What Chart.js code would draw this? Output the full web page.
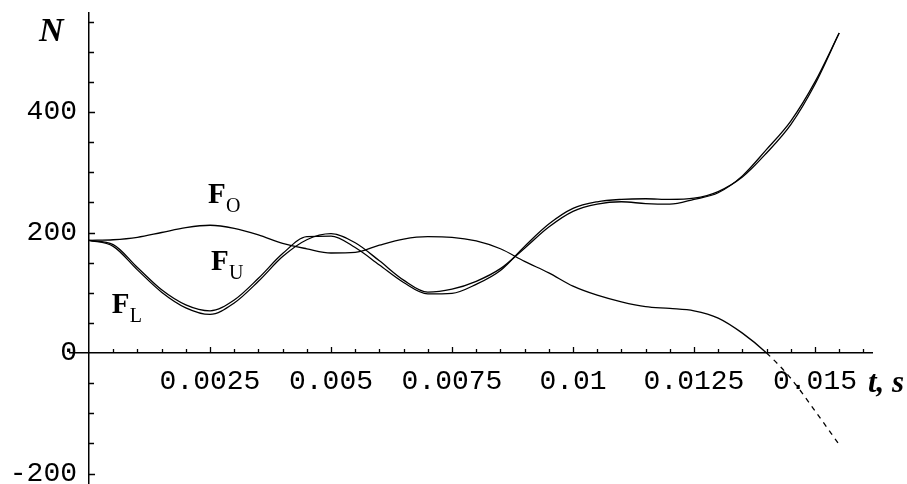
<!DOCTYPE html>
<html>
<head>
<meta charset="utf-8">
<script src="https://cdn.jsdelivr.net/npm/chart.js@4"></script>
<style>
  html, body { margin: 0; padding: 0; background: #fff; }
</style>
</head>
<body>
<canvas id="forces" width="907" height="484"></canvas>
<script>
// time samples (s) and the three force curves (N)
const times = [0, 0.0005, 0.001, 0.0015, 0.002, 0.0025, 0.003, 0.0035, 0.004, 0.0045,
  0.005, 0.0055, 0.006, 0.0065, 0.007, 0.0075, 0.008, 0.0085, 0.009, 0.0095,
  0.01, 0.0105, 0.011, 0.0115, 0.012, 0.0125, 0.013, 0.0135, 0.014, 0.0145, 0.015, 0.0155];
const forceO = [187, 188, 192, 200, 208, 212, 207, 196, 182, 173,
  166, 167, 179, 189, 193, 192, 186, 173, 152, 133,
  111, 96, 85, 77, 74, 70, 58, 33, 0, -42, -96, -152];
const forceU = [187, 180, 142, 105, 80, 70, 88, 124, 165, 193,
  194, 175, 146, 117, 98, 99, 114, 137, 177, 214,
  240, 251, 255, 256, 255, 257, 268, 292, 332, 379, 446, 531];
const forceL = [187, 177, 138, 101, 75, 64, 83, 119, 160, 188,
  198, 183, 153, 121, 101, 106, 119, 140, 174, 209,
  235, 247, 251, 248, 247, 255, 266, 294, 338, 385, 450, 531];

const xTickLabels = [0.0025, 0.005, 0.0075, 0.01, 0.0125, 0.015];
const yTickLabels = [-200, 0, 200, 400];

const curveLabels = [
  { text: 'F', sub: 'O', t: 0.00246, v: 249 },
  { text: 'F', sub: 'U', t: 0.00252, v: 138 },
  { text: 'F', sub: 'L', t: 0.00047, v: 66 }
];

function points(values) {
  return times.map((t, i) => ({ x: t, y: values[i] }));
}

// axes cross at the origin, so keep the label overhang from shrinking the plot
function noPadding(scale) {
  scale.paddingTop = 0;
  scale.paddingBottom = 0;
  scale.paddingLeft = 0;
  scale.paddingRight = 0;
}

// Mathematica-style ticks: drawn on the inside of the axes, with minor ticks
const axisTicks = {
  id: 'axisTicks',
  beforeDraw(chart) {
    // a y axis placed at x = 0 gets no label gap from Chart.js, add one
    const items = chart.scales.y.getLabelItems();
    if (!items.shifted) {
      items.forEach(it => { it.options.translation[0] -= 12; });
      items.shifted = true;
    }
  },
  afterDraw(chart) {
    const { ctx, scales: { x, y } } = chart;
    const x0 = x.getPixelForValue(0);
    const y0 = y.getPixelForValue(0);
    ctx.save();
    ctx.strokeStyle = '#000';
    ctx.lineWidth = 1.3;
    ctx.beginPath();
    for (let i = 1; i <= 32; i++) {
      const px = Math.round(x.getPixelForValue(i * 0.0005)) + 0.5;
      const len = i % 5 === 0 ? 6 : 4;
      ctx.moveTo(px, y0);
      ctx.lineTo(px, y0 - len);
    }
    for (let i = -4; i <= 11; i++) {
      if (i === 0) continue;
      const py = Math.round(y.getPixelForValue(i * 50)) + 0.5;
      const len = i % 4 === 0 ? 6 : 5;
      ctx.moveTo(x0, py);
      ctx.lineTo(x0 + len, py);
    }
    ctx.stroke();

    // axis names
    ctx.fillStyle = '#000';
    ctx.textBaseline = 'alphabetic';
    ctx.font = 'italic bold 34px "Liberation Serif"';
    ctx.fillText('N', x0 - 50, 41);
    ctx.font = 'italic bold 31px "Liberation Serif"';
    ctx.fillText('t, s', x.right - 4, y0 + 39);

    // curve names with subscripts
    curveLabels.forEach(l => {
      const px = x.getPixelForValue(l.t);
      const py = y.getPixelForValue(l.v);
      ctx.font = 'bold 29px "Liberation Serif"';
      ctx.fillText(l.text, px, py);
      ctx.font = '20px "Liberation Serif"';
      ctx.fillText(l.sub, px + 18, py + 9);
    });
    ctx.restore();
  }
};

const lineStyle = {
  borderColor: '#000',
  borderWidth: 1.3,
  pointRadius: 0,
  fill: false,
  cubicInterpolationMode: 'monotone'
};

// invisible grid, kept only so the tick length pushes the labels off the axis
const hiddenGrid = len => ({
  display: true,
  drawOnChartArea: false,
  drawTicks: true,
  tickLength: len,
  color: 'rgba(0,0,0,0)'
});

new Chart(document.getElementById('forces'), {
  type: 'line',
  data: {
    datasets: [
      Object.assign({ label: 'F_O', data: points(forceO),
        segment: { borderDash: c => c.p1.parsed.y < 0 ? [5, 5] : undefined } }, lineStyle),
      Object.assign({ label: 'F_U', data: points(forceU) }, lineStyle),
      Object.assign({ label: 'F_L', data: points(forceL) }, lineStyle)
    ]
  },
  options: {
    responsive: false,
    animation: false,
    layout: { padding: { left: 70, right: 35, top: 13, bottom: 0 } },
    plugins: { legend: { display: false }, tooltip: { enabled: false } },
    scales: {
      x: {
        type: 'linear',
        position: { y: 0 },
        min: -0.000393,
        max: 0.016178,
        grid: hiddenGrid(12),
        border: { display: true, color: '#000', width: 1.5 },
        afterBuildTicks: s => { s.ticks = xTickLabels.map(v => ({ value: v })); },
        afterFit: noPadding,
        ticks: {
          color: '#000',
          padding: 0,
          maxRotation: 0,
          autoSkip: false,
          font: { family: '"Liberation Mono"', size: 28 },
          callback: v => String(v)
        }
      },
      y: {
        type: 'linear',
        position: { x: 0 },
        min: -217.4,
        max: 564.3,
        grid: { display: false },
        border: { display: true, color: '#000', width: 1.5 },
        afterBuildTicks: s => { s.ticks = yTickLabels.map(v => ({ value: v })); },
        afterFit: noPadding,
        ticks: {
          color: '#000',
          padding: 0,
          autoSkip: false,
          font: { family: '"Liberation Mono"', size: 28 },
          callback: v => String(v)
        }
      }
    }
  },
  plugins: [axisTicks]
});
</script>
</body>
</html>
